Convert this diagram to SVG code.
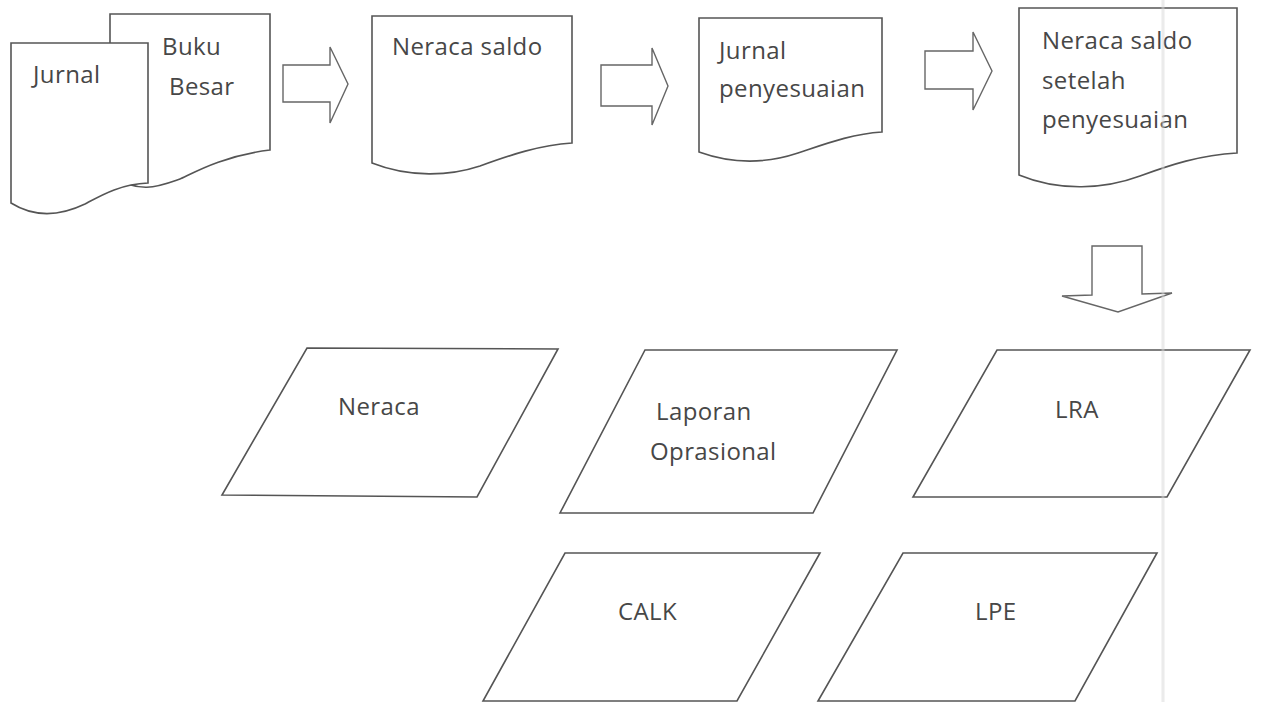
<svg xmlns="http://www.w3.org/2000/svg" width="1261" height="702" viewBox="0 0 1261 702">
<style>
.shape{fill:#fff;stroke:#555;stroke-width:1.6;stroke-linejoin:miter}
.arrow{fill:#fff;stroke:#666;stroke-width:1.4}
.lbl{font-family:"Open Sans","Noto Sans",sans-serif;font-size:24px;letter-spacing:0.4px;fill:#474747}
</style>
<rect x="0" y="0" width="1261" height="702" fill="#fff"/>
<g id="connectors">
<polygon class="arrow" points="283,65 330,65 330,47 348,84 330,123 330,102 283,102"/>
<polygon class="arrow" points="601,65 652,65 652,48 668,86 652,125 652,106 601,106"/>
<polygon class="arrow" points="925,51 973,51 973,32 992,71 973,110 973,89 925,89"/>
<polygon class="arrow" points="1092,246 1142,246 1142,294 1172,293 1118,312 1062,296 1092,295"/>
</g>
<g id="node-buku-besar">
<path class="shape" d="M110,14 H270 V150 C220,156 188,176 180,179 C160,186 140,195 110,175 Z"/>
<text class="lbl" x="162" y="55">Buku</text>
<text class="lbl" x="169" y="95">Besar</text>
</g>
<g id="node-jurnal">
<path class="shape" d="M11,43 H148 V183 C120,184 100,196 85,204 C60,216 35,218 11,203 Z"/>
<text class="lbl" x="33" y="83">Jurnal</text>
</g>
<g id="node-neraca-saldo">
<path class="shape" d="M372,16 H572 V143 C540,145 510,155 480,166 C450,176 410,178 372,163 Z"/>
<text class="lbl" x="392" y="55">Neraca saldo</text>
</g>
<g id="node-jurnal-penyesuaian">
<path class="shape" d="M699,18 H882 V132 C852,134 828,143 798,153 C768,163 735,165 699,152 Z"/>
<text class="lbl" x="719" y="59">Jurnal</text>
<text class="lbl" x="719" y="97">penyesuaian</text>
</g>
<g id="node-neraca-saldo-setelah">
<path class="shape" d="M1019,8 H1237 V153 C1200,155 1170,165 1140,176 C1105,189 1060,192 1019,175 Z"/>
<text class="lbl" x="1042" y="49">Neraca saldo</text>
<text class="lbl" x="1042" y="89">setelah</text>
<text class="lbl" x="1042" y="128">penyesuaian</text>
</g>
<g id="node-neraca">
<polygon class="shape" points="307,348 558,349 477,497 222,495"/>
<text class="lbl" x="338" y="415">Neraca</text>
</g>
<g id="node-laporan-oprasional">
<polygon class="shape" points="645,350 897,350 813,513 560,513"/>
<text class="lbl" x="656" y="420">Laporan</text>
<text class="lbl" x="650" y="460">Oprasional</text>
</g>
<g id="node-lra">
<polygon class="shape" points="997,350 1250,350 1167,497 913,497"/>
<text class="lbl" x="1055" y="418">LRA</text>
</g>
<g id="node-calk">
<polygon class="shape" points="565,553 820,553 737,701 483,701"/>
<text class="lbl" x="618" y="620">CALK</text>
</g>
<g id="node-lpe">
<polygon class="shape" points="903,553 1157,553 1075,701 818,701"/>
<text class="lbl" x="975" y="620">LPE</text>
</g>
<line x1="1163" y1="0" x2="1163" y2="702" stroke="#d8d8d8" stroke-width="3" opacity="0.5"/>
</svg>
